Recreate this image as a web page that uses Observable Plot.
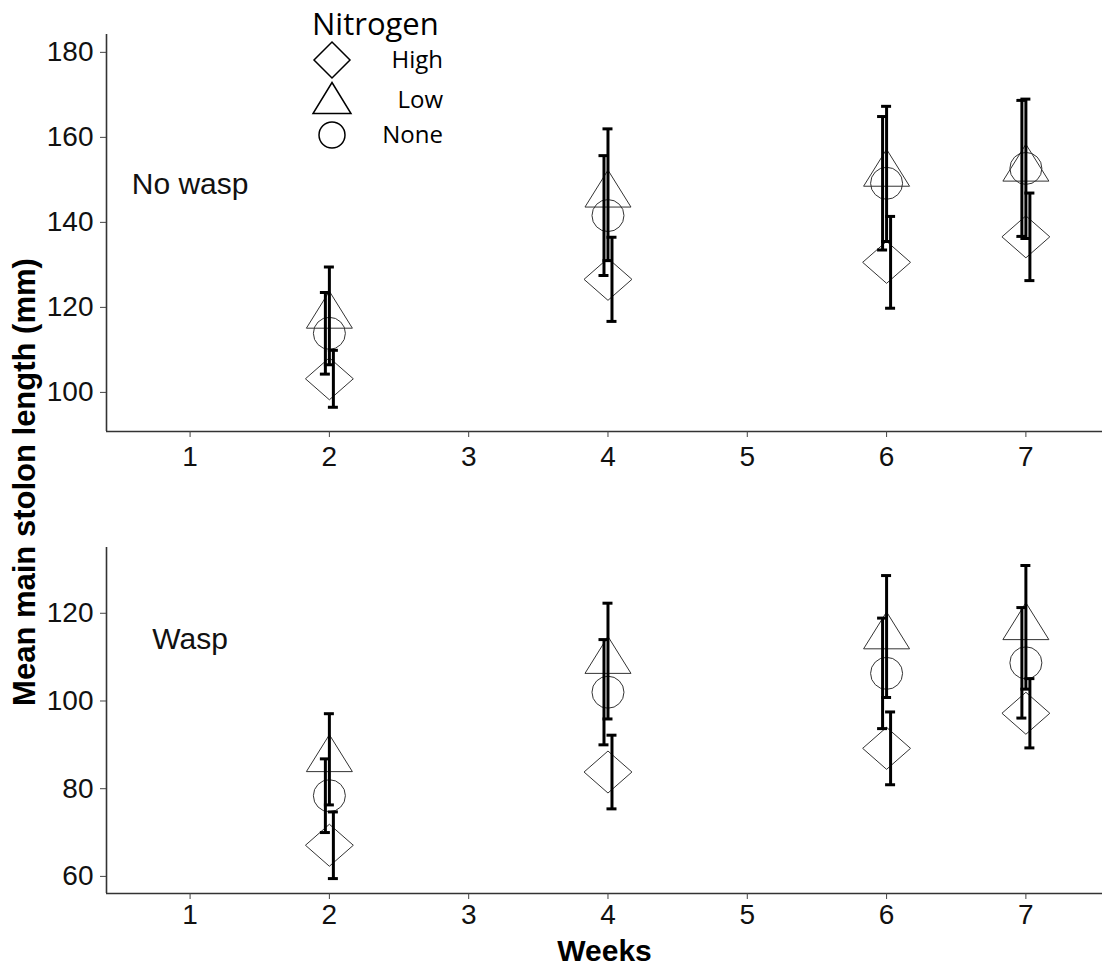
<!DOCTYPE html>
<html><head><meta charset="utf-8">
<script src="https://cdn.jsdelivr.net/npm/d3@7"></script>
<script src="https://cdn.jsdelivr.net/npm/@observablehq/plot@0.6"></script>
<style>
body{margin:0;background:#fff;overflow:hidden}
#fig{position:relative;width:1102px;height:971px;background:#fff}
#top{position:absolute;left:0;top:0}
#bottom{position:absolute;left:0;top:500px}
#ylab{position:absolute;left:24px;top:482px;transform:translate(-50%,-50%) rotate(-90deg);font:bold 31px "Liberation Sans",Arial,sans-serif;white-space:nowrap;line-height:1;color:#000}
#legend{position:absolute;left:0;top:0}
</style></head><body>
<div id="fig"><div id="top"></div><div id="bottom"></div><div id="ylab">Mean main stolon length (mm)</div><svg id="legend"></svg></div>
<script>
// ---- data ----
const weeks = [2, 4, 6, 7];
const weekTicks = [1, 2, 3, 4, 5, 6, 7];
const nitrogenLevels = ["High", "Low", "None"];

// No wasp panel (means and standard errors)
const noWaspHighMean = [103.2, 126.6, 130.6, 136.6];
const noWaspHighSE   = [6.7, 9.9, 10.8, 10.3];
const noWaspLowMean  = [118.0, 146.5, 151.4, 152.6];
const noWaspLowSE    = [11.5, 15.5, 15.9, 16.4];
const noWaspNoneMean = [113.9, 141.6, 149.2, 152.7];
const noWaspNoneSE   = [9.6, 14.1, 15.7, 16.0];

// Wasp panel
const waspHighMean = [67.1, 83.8, 89.2, 97.2];
const waspHighSE   = [7.6, 8.4, 8.3, 7.9];
const waspLowMean  = [86.7, 109.1, 114.7, 116.8];
const waspLowSE    = [10.4, 13.2, 13.9, 14.1];
const waspNoneMean = [78.4, 102.0, 106.3, 108.7];
const waspNoneSE   = [8.4, 12.0, 12.6, 12.6];

const noWaspTicks = [100, 120, 140, 160, 180];
const waspTicks = [60, 80, 100, 120];
const panelNames = ["No wasp", "Wasp"];
const panelLabelWeek = [1, 1];
const panelLabelValue = [149, 114];

// ---- helpers ----
function rowsFor(series) {
  const out = [];
  for (const [n, mean, se] of series) {
    weeks.forEach((w, i) => out.push({week: w, nitrogen: n, mean: mean[i], lo: mean[i] - se[i], hi: mean[i] + se[i]}));
  }
  return out;
}
const noWaspRows = rowsFor([["High", noWaspHighMean, noWaspHighSE], ["Low", noWaspLowMean, noWaspLowSE], ["None", noWaspNoneMean, noWaspNoneSE]]);
const waspRows = rowsFor([["High", waspHighMean, waspHighSE], ["Low", waspLowMean, waspLowSE], ["None", waspNoneMean, waspNoneSE]]);

const diamondSym = {draw(ctx, size) { const r = Math.sqrt(size / Math.PI); const w = r * 1.14; ctx.moveTo(0, -r); ctx.lineTo(w, 0); ctx.lineTo(0, r); ctx.lineTo(-w, 0); ctx.closePath(); }};
const triangleSym = {draw(ctx, size) { const r = Math.sqrt(size / Math.PI); ctx.moveTo(0, -1.07 * r); ctx.lineTo(r, 0.535 * r); ctx.lineTo(-r, 0.535 * r); ctx.closePath(); }};
const symbolOf = {High: diamondSym, Low: triangleSym, None: "circle"};
const radiusOf = {High: 21, Low: 23, None: 16};
const dodgeOf = {High: 4, Low: 0, None: -4};

const xDomain = [0.4, 7.55];
const font = '"Liberation Sans", Arial, sans-serif';

function panel({rows, yDomain, yTicks, height, marginTop, marginBottom, labelIndex, weeksLabel, xPad}) {
  const marks = [
    Plot.ruleX([xDomain[0]], {stroke: "#333", strokeWidth: 1.6}),
    Plot.ruleY([yDomain[0]], {stroke: "#333", strokeWidth: 1.6}),
    Plot.axisX({ticks: weekTicks, tickFormat: d => String(d), tickSize: 6, tickPadding: xPad, fontSize: 28, label: null, stroke: "#444", fill: "#111"}),
    Plot.axisY({ticks: yTicks, tickSize: 6, tickPadding: 7, fontSize: 28, label: null, stroke: "#444", fill: "#111"}),
    Plot.text([labelIndex], {x: i => panelLabelWeek[i], y: i => panelLabelValue[i], text: i => panelNames[i], fontSize: 30, fill: "#111"})
  ];
  for (const n of nitrogenLevels) {
    const data = rows.filter(d => d.nitrogen === n);
    marks.push(Plot.dot(data, {x: "week", y: "mean", symbol: symbolOf[n], r: radiusOf[n], stroke: "#333", strokeWidth: 1, fill: "none"}));
  }
  for (const n of nitrogenLevels) {
    const data = rows.filter(d => d.nitrogen === n);
    const dx = dodgeOf[n];
    marks.push(Plot.ruleX(data, {x: "week", y1: "lo", y2: "hi", dx, stroke: "#000", strokeWidth: 3}));
    marks.push(Plot.ruleY(data, {y: "hi", x1: "week", x2: "week", dx, insetLeft: -5, insetRight: -5, stroke: "#000", strokeWidth: 3}));
    marks.push(Plot.ruleY(data, {y: "lo", x1: "week", x2: "week", dx, insetLeft: -5, insetRight: -5, stroke: "#000", strokeWidth: 3}));
  }
  if (weeksLabel) {
    marks.push(Plot.text([weeksLabel], {text: d => d, frameAnchor: "bottom", dy: 67, fontSize: 30, fontWeight: "bold", fill: "#000"}));
  }
  return Plot.plot({
    width: 1102, height, marginTop, marginBottom, marginLeft: 106, marginRight: 0,
    style: {fontFamily: font, background: "transparent", overflow: "visible"},
    x: {type: "linear", domain: xDomain},
    y: {domain: yDomain},
    marks
  });
}

document.getElementById("top").append(panel({rows: noWaspRows, yDomain: [90.8, 184.2], yTicks: noWaspTicks, height: 490, marginTop: 34, marginBottom: 59, labelIndex: 0, xPad: 9}));
document.getElementById("bottom").append(panel({rows: waspRows, yDomain: [56.1, 135.0], yTicks: waspTicks, height: 471, marginTop: 47, marginBottom: 78, labelIndex: 1, weeksLabel: "Weeks", xPad: 5}));

// ---- legend ----
const legend = d3.select("#legend").attr("width", 470).attr("height", 160);
legend.append("text").attr("x", 312).attr("y", 35).attr("font-family", '"Open Sans", sans-serif').attr("font-size", 31).attr("fill", "#000").text("Nitrogen");
const legendY = {High: 60, Low: 100, None: 135};
function legendPath(n) {
  const p = d3.path();
  if (n === "High") { p.moveTo(0, -18); p.lineTo(18, 0); p.lineTo(0, 18); p.lineTo(-18, 0); p.closePath(); }
  else if (n === "Low") { p.moveTo(0, -20.5); p.lineTo(19, 10.5); p.lineTo(-19, 10.5); p.closePath(); }
  else { p.arc(0, 0, 13, 0, 2 * Math.PI); }
  return p.toString();
}
for (const n of nitrogenLevels) {
  const cy = legendY[n] + (n === "Low" ? 3 : 0);
  legend.append("path").attr("d", legendPath(n)).attr("transform", `translate(332,${cy})`).attr("fill", "none").attr("stroke", "#000").attr("stroke-width", 1.5);
  legend.append("text").attr("x", 443).attr("y", legendY[n]).attr("dy", "0.35em").attr("text-anchor", "end").attr("font-family", '"Open Sans", sans-serif').attr("font-size", 24).attr("fill", "#000").text(n);
}
</script>
</body></html>
